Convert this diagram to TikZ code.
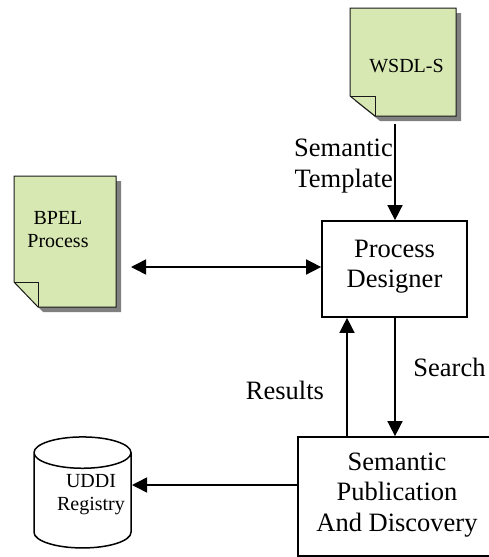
\documentclass[tikz,border=0pt]{standalone}
\usepackage{fontspec}
\setmainfont{Liberation Serif}
\usetikzlibrary{arrows.meta}
\usetikzlibrary{shapes.geometric}

\definecolor{docgreen}{RGB}{216,232,178}
\definecolor{docshadow}{RGB}{128,128,128}

\tikzset{
	boxnode/.style={draw,line width=1.7pt,fill=white,align=center,inner sep=0pt,font=\fontsize{26.5}{30.5}\selectfont},
	biglabel/.style={align=center,font=\fontsize{26.5}{31.5}\selectfont},
	smalllabel/.style={align=center,font=\fontsize{20}{23}\selectfont},
	docline/.style={draw=black!90,line width=1pt},
	flow/.style={line width=1.5pt,-{Triangle[length=15pt,width=15pt]}},
	flowboth/.style={line width=1.5pt,{Triangle[length=15pt,width=15pt]}-{Triangle[length=15pt,width=15pt]}},
}

\begin{document}
\begin{tikzpicture}[x=1pt,y=-1pt]
	\useasboundingbox (0,0) rectangle (489,557);

	% -- WSDL document
	\fill[docshadow] (355,13) -- (461,13) -- (461,121) -- (380,121) -- (355,101) -- cycle;
	\fill[docgreen] (350,8) -- (456,8) -- (456,116) -- (375,116) -- (350,96) -- cycle;
	\draw[docline] (350,8) -- (456,8) -- (456,116) -- (375,116) -- (350,96) -- cycle;
	\draw[docline] (350,96) -- (375,96) -- (375,116);
	\node[smalllabel] (wsdl) at (406.5,66) {WSDL-S};
	\coordinate (wsdlout) at (395,124);

	% -- BPEL document
	\fill[docshadow] (19,181) -- (121,181) -- (121,312) -- (43,312) -- (19,287) -- cycle;
	\fill[docgreen] (14,176) -- (116,176) -- (116,307) -- (38,307) -- (14,282) -- cycle;
	\draw[docline] (14,176) -- (116,176) -- (116,307) -- (38,307) -- (14,282) -- cycle;
	\draw[docline] (14,282) -- (38,282) -- (38,307);
	\node[smalllabel] (bpel) at (58,229.5) {BPEL\\Process};
	\coordinate (bpelout) at (131,267);

	% -- Boxes
	\node[boxnode,text depth=10pt,minimum width=145pt,minimum height=96pt] (designer) at (394.5,269) {Process\\Designer};
	\node[boxnode,text depth=9pt,minimum width=198pt,minimum height=119pt] (discovery) at (397,496.5) {Semantic\\Publication\\And Discovery};

	% -- Registry
	\node[cylinder,draw,line width=1.5pt,shape border rotate=90,aspect=4.7,minimum width=97pt,minimum height=111pt] (uddi) at (82.5,503.5) {};
	\node[smalllabel] (uddilabel) at (91,495) {UDDI\\Registry};

	% -- Connectors
	\draw[flow] (wsdlout) -- (wsdlout |- designer.north);
	\draw[flowboth] (bpelout) -- (bpelout -| designer.west);
	\draw[flow] (designer.south -| wsdlout) -- (discovery.north -| wsdlout);
	\coordinate (resultsx) at (347,400);
	\draw[flow] (discovery.north -| resultsx) -- (designer.south -| resultsx);
	\coordinate (uddiin) at (132,485);
	\draw[flow] (uddiin -| discovery.west) -- (uddiin);

	% -- Labels
	\node[biglabel,align=right,anchor=east,inner sep=0pt] (semantic) at (393,166) {Semantic\\Template};
	\node[biglabel] (search) at (449.5,367) {Search};
	\node[biglabel] (results) at (285,390) {Results};
\end{tikzpicture}
\end{document}
